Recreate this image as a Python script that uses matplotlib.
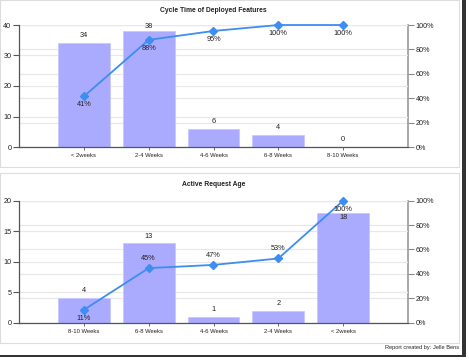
import numpy as np
import matplotlib
matplotlib.use("Agg")
import matplotlib.pyplot as plt
from matplotlib.patches import Rectangle

plt.rcParams['font.family'] = ['Liberation Sans', 'DejaVu Sans']

# datos del primer grafico
cats_top = ['< 2weeks', '2-4 Weeks', '4-6 Weeks', '6-8 Weeks', '8-10 Weeks']
counts_top = [34, 38, 6, 4, 0]
pct_top = [41.46, 87.80, 95.12, 100.0, 100.0]
pct_pos_top = ['below', 'below', 'below', 'below', 'below']
cnt_pos_top = ['above', 'above', 'above', 'above', 'above']

# datos del segundo grafico
cats_bot = ['8-10 Weeks', '6-8 Weeks', '4-6 Weeks', '2-4 Weeks', '< 2weeks']
counts_bot = [4, 13, 1, 2, 18]
pct_bot = [10.53, 44.74, 47.37, 52.63, 100.0]
pct_pos_bot = ['below', 'above', 'above', 'above', 'below']
cnt_pos_bot = ['above', 'above', 'above', 'above', 'inside']

BAR = '#aaaaff'
LINE = '#3d8ef0'
TXT = '#222222'

fig = plt.figure(figsize=(4.69, 3.6), dpi=100)

# marcos de los paneles y sombra
for r in [(0.0, 1 - 167 / 360, 459 / 469, 167 / 360), (0.0, 1 - 343 / 360, 459 / 469, 170 / 360)]:
    fig.patches.append(Rectangle(r[:2], r[2], r[3], transform=fig.transFigure,
                                 facecolor='white', edgecolor='#dddddd', lw=0.8, zorder=-10))
fig.patches.append(Rectangle((462 / 469, 1 - 357 / 360), 4 / 469, 357 / 360, transform=fig.transFigure,
                             facecolor='#333333', edgecolor='none', zorder=-10))
fig.patches.append(Rectangle((0.0, 1 - 357 / 360), 466 / 469, 2.5 / 360, transform=fig.transFigure,
                             facecolor='#333333', edgecolor='none', zorder=-10))


def panel(rect, title, cats, counts, pct, pct_pos, cnt_pos, ymax, ystep, title_px):
    ax = fig.add_axes(rect)
    x = np.arange(len(cats))
    ax.set_xlim(-1, len(cats))
    ax.set_ylim(0, ymax)
    ax.set_yticks(np.arange(0, ymax + 1, ystep))
    ax.set_xticks(x)
    ax.set_xticklabels(cats, fontsize=4.2, color=TXT)
    ax.tick_params(axis='y', labelsize=5.2, colors=TXT, length=4, width=0.8, pad=1.5, color='#555555')
    ax.tick_params(axis='x', length=2, width=0.6, pad=2.5, color='#555555')
    for s in ['top', 'right']:
        ax.spines[s].set_visible(False)
    ax.spines['left'].set_color('#555555')
    ax.spines['bottom'].set_color('#555555')
    ax.spines['left'].set_linewidth(0.9)
    ax.spines['bottom'].set_linewidth(0.9)
    ax.yaxis.grid(True, color='#e8e8e8', lw=0.9)
    ax.set_axisbelow(True)

    ax.bar(x, counts, width=0.8, color=BAR, edgecolor='#c8c8ff', lw=0.6, zorder=2)
    lim_px = ax.transData.transform((0, ymax))[1]
    for xi, c, pos in zip(x, counts, cnt_pos):
        # etiqueta arriba de la barra, sin pasar del borde superior
        top_px = ax.transData.transform((0, c))[1]
        if pos == 'inside':
            dy = -3.6
        else:
            dy = min(5.3, (lim_px - 1 - top_px) * 0.72)
        ax.annotate(str(c), (xi, c), xytext=(0, dy), textcoords='offset points',
                    ha='center', va='center', fontsize=5.3, color=TXT, zorder=5)
    fig.text((rect[0] + rect[2] / 2), 1 - title_px / 360, title, ha='center', va='center',
             fontsize=4.9, fontweight='bold', color=TXT)

    ax2 = ax.twinx()
    ax2.set_ylim(0, 100)
    ax2.set_yticks([0, 20, 40, 60, 80, 100])
    ax2.set_yticklabels(['%d%%' % v for v in [0, 20, 40, 60, 80, 100]])
    ax2.tick_params(axis='y', labelsize=5.2, colors=TXT, length=4, width=0.8, pad=1.5, color='#888888')
    for s in ['top', 'left', 'bottom']:
        ax2.spines[s].set_visible(False)
    ax2.spines['right'].set_color('#999999')
    ax2.spines['right'].set_linewidth(1.2)
    ax2.yaxis.grid(True, color='#e8e8e8', lw=0.9)
    ax2.set_zorder(ax.get_zorder() - 1)
    ax.patch.set_visible(False)

    # linea acumulada encima de las barras
    ax3 = ax.twinx()
    ax3.set_ylim(0, 100)
    ax3.axis('off')
    ax3.plot(x, pct, color=LINE, lw=1.3, marker='D', ms=3.6, zorder=6, clip_on=False)
    for xi, p, pos in zip(x, pct, pct_pos):
        dy = -6 if pos == 'below' else 7
        ax3.annotate('%d%%' % round(p), (xi, p), xytext=(0, dy), textcoords='offset points',
                     ha='center', va='center', fontsize=5.3, color=TXT, zorder=7)
    return ax


panel([19 / 469, 1 - 147 / 360, 389 / 469, 122 / 360], 'Cycle Time of Deployed Features',
      cats_top, counts_top, pct_top, pct_pos_top, cnt_pos_top, 40, 10, 10)
panel([19 / 469, 1 - 322.7 / 360, 389 / 469, 122 / 360], 'Active Request Age',
      cats_bot, counts_bot, pct_bot, pct_pos_bot, cnt_pos_bot, 20, 5, 185)

fig.text(459 / 469, 1 - 348 / 360, 'Report created by: Jelle Bens', ha='right', va='center',
         fontsize=4.1, color=TXT)

fig.savefig('out.png', dpi=100)
